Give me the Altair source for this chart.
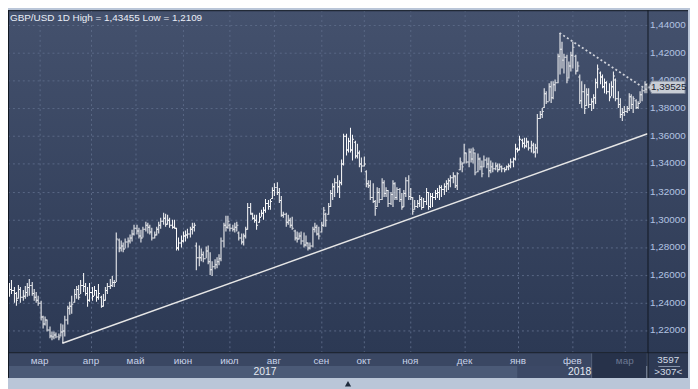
import altair as alt
import pandas as pd

# ---------------- data ----------------
opens = [
    1.2480,1.2500,1.2490,1.2470,1.2435,1.2500,1.2440,1.2450,1.2480,1.2510,
    1.2530,1.2470,1.2440,1.2420,1.2400,1.2300,1.2250,1.2280,1.2210,1.2165,
    1.2160,1.2170,1.2160,1.2165,1.2190,1.2200,1.2280,1.2360,1.2380,1.2405,
    1.2460,1.2500,1.2465,1.2530,1.2520,1.2470,1.2420,1.2480,1.2450,1.2490,
    1.2440,1.2445,1.2380,1.2420,1.2490,1.2520,1.2530,1.2550,1.2550,1.2855,
    1.2800,1.2810,1.2790,1.2840,1.2850,1.2870,1.2900,1.2940,1.2920,1.2880,
    1.2870,1.2930,1.2960,1.2950,1.2910,1.2870,1.2890,1.2935,1.2960,1.2990,
    1.3010,1.2970,1.3000,1.2960,1.2950,1.2940,1.2800,1.2830,1.2850,1.2880,
    1.2890,1.2900,1.2930,1.2950,1.2810,1.2730,1.2730,1.2750,1.2720,1.2780,
    1.2700,1.2640,1.2660,1.2680,1.2700,1.2720,1.2850,1.2960,1.2950,1.2965,
    1.2940,1.2930,1.2950,1.2905,1.2870,1.2840,1.2880,1.2930,1.3090,1.3040,
    1.3010,1.3000,1.2980,1.3020,1.3050,1.3070,1.3120,1.3100,1.3155,1.3210,
    1.3230,1.3200,1.3140,1.3030,1.3040,1.2980,1.3000,1.2960,1.2920,1.2870,
    1.2860,1.2880,1.2850,1.2820,1.2830,1.2800,1.2810,1.2930,1.2950,1.2900,
    1.2910,1.2960,1.3040,1.3040,1.3100,1.3190,1.3240,1.3270,1.3240,1.3270,
    1.3400,1.3600,1.3500,1.3570,1.3500,1.3560,1.3460,1.3480,1.3400,1.3390,
    1.3345,1.3260,1.3250,1.3160,1.3130,1.3100,1.3200,1.3150,1.3270,1.3190,
    1.3210,1.3120,1.3180,1.3260,1.3160,1.3220,1.3150,1.3100,1.3190,1.3280,
    1.3170,1.3160,1.3075,1.3100,1.3120,1.3150,1.3090,1.3130,1.3200,1.3100,
    1.3170,1.3160,1.3190,1.3200,1.3230,1.3220,1.3240,1.3260,1.3280,1.3300,
    1.3310,1.3250,1.3360,1.3400,1.3410,1.3480,1.3420,1.3490,1.3440,1.3480,
    1.3345,1.3440,1.3380,1.3380,1.3430,1.3400,1.3350,1.3380,1.3370,1.3390,
    1.3360,1.3380,1.3370,1.3360,1.3380,1.3390,1.3420,1.3440,1.3510,1.3500,
    1.3575,1.3550,1.3530,1.3560,1.3520,1.3540,1.3490,1.3520,1.3730,1.3760,
    1.3810,1.3910,1.3855,1.3960,1.3880,1.3970,1.3990,1.4180,1.4230,1.4150,
    1.4170,1.4020,1.4110,1.4190,1.4180,1.4070,1.4030,1.3860,1.3920,1.3820,
    1.3900,1.3830,1.3850,1.3880,1.3990,1.4060,1.4030,1.3960,1.3990,1.3920,
    1.3890,1.3960,1.4010,1.3870,1.3830,1.3760,1.3770,1.3780,1.3800,1.3890,
    1.3830,1.3860,1.3810,1.3840,1.3900,1.3930,1.3970,
]
highs = [
    1.2540,1.2560,1.2510,1.2480,1.2530,1.2510,1.2490,1.2520,1.2540,1.2570,
    1.2550,1.2500,1.2480,1.2450,1.2410,1.2310,1.2300,1.2280,1.2230,1.2190,
    1.2195,1.2185,1.2180,1.2250,1.2240,1.2310,1.2380,1.2405,1.2450,1.2500,
    1.2520,1.2530,1.2565,1.2615,1.2545,1.2510,1.2545,1.2510,1.2520,1.2490,
    1.2535,1.2450,1.2460,1.2510,1.2545,1.2570,1.2590,1.2560,1.2905,1.2860,
    1.2845,1.2830,1.2860,1.2870,1.2890,1.2925,1.2965,1.2965,1.2940,1.2925,
    1.2950,1.2985,1.2975,1.2965,1.2940,1.2915,1.2950,1.2985,1.3010,1.3048,
    1.3040,1.3030,1.3015,1.3000,1.2998,1.2940,1.2870,1.2885,1.2910,1.2920,
    1.2935,1.2950,1.2974,1.2975,1.2830,1.2815,1.2790,1.2770,1.2805,1.2810,
    1.2760,1.2700,1.2710,1.2725,1.2745,1.2870,1.2975,1.3025,1.3025,1.2970,
    1.2960,1.2975,1.2985,1.2915,1.2900,1.2895,1.2950,1.3115,1.3115,1.3045,
    1.3035,1.3030,1.3045,1.3070,1.3093,1.3150,1.3140,1.3150,1.3235,1.3260,
    1.3268,1.3222,1.3165,1.3055,1.3045,1.3035,1.3010,1.3020,1.2927,1.2915,
    1.2903,1.2915,1.2903,1.2880,1.2832,1.2832,1.2950,1.2975,1.2962,1.2950,
    1.2985,1.3093,1.3045,1.3116,1.3211,1.3260,1.3295,1.3318,1.3283,1.3430,
    1.3615,1.3615,1.3590,1.3657,1.3610,1.3567,1.3545,1.3496,1.3449,1.3450,
    1.3354,1.3283,1.3283,1.3260,1.3140,1.3235,1.3223,1.3295,1.3283,1.3235,
    1.3211,1.3200,1.3283,1.3271,1.3235,1.3223,1.3188,1.3211,1.3306,1.3318,
    1.3223,1.3164,1.3140,1.3140,1.3176,1.3164,1.3152,1.3223,1.3200,1.3188,
    1.3188,1.3211,1.3223,1.3247,1.3247,1.3259,1.3283,1.3295,1.3318,1.3342,
    1.3318,1.3342,1.3449,1.3410,1.3545,1.3484,1.3508,1.3508,1.3520,1.3484,
    1.3472,1.3448,1.3425,1.3460,1.3448,1.3448,1.3425,1.3413,1.3413,1.3401,
    1.3401,1.3389,1.3377,1.3389,1.3401,1.3437,1.3448,1.3543,1.3520,1.3603,
    1.3579,1.3591,1.3591,1.3567,1.3567,1.3555,1.3543,1.3757,1.3781,1.3804,
    1.3947,1.3923,1.3982,1.3994,1.3994,1.4006,1.4196,1.4345,1.4279,1.4196,
    1.4184,1.4137,1.4208,1.4279,1.4184,1.4137,1.4042,1.3994,1.3970,1.3947,
    1.3947,1.3875,1.3899,1.4018,1.4113,1.4065,1.4042,1.4018,1.3994,1.3982,
    1.3994,1.4065,1.4018,1.3923,1.3875,1.3804,1.3816,1.3816,1.3911,1.3899,
    1.3887,1.3864,1.3852,1.3923,1.3947,1.3994,1.3982,
]
lows = [
    1.2440,1.2460,1.2400,1.2380,1.2430,1.2400,1.2410,1.2430,1.2440,1.2450,
    1.2450,1.2410,1.2400,1.2380,1.2270,1.2215,1.2235,1.2190,1.2140,1.2125,
    1.2135,1.2140,1.2130,1.2160,1.2109,1.2160,1.2240,1.2315,1.2320,1.2400,
    1.2430,1.2420,1.2460,1.2480,1.2450,1.2370,1.2405,1.2415,1.2450,1.2405,
    1.2420,1.2360,1.2370,1.2415,1.2460,1.2500,1.2510,1.2510,1.2550,1.2765,
    1.2770,1.2765,1.2790,1.2800,1.2825,1.2840,1.2880,1.2890,1.2860,1.2835,
    1.2870,1.2915,1.2900,1.2890,1.2845,1.2860,1.2880,1.2895,1.2930,1.2965,
    1.2950,1.2960,1.2940,1.2930,1.2935,1.2775,1.2780,1.2800,1.2830,1.2840,
    1.2860,1.2870,1.2890,1.2910,1.2635,1.2660,1.2700,1.2690,1.2720,1.2680,
    1.2600,1.2589,1.2640,1.2650,1.2670,1.2700,1.2800,1.2915,1.2930,1.2910,
    1.2910,1.2905,1.2915,1.2845,1.2820,1.2810,1.2865,1.2925,1.3035,1.2998,
    1.2975,1.2925,1.2975,1.3020,1.3000,1.3045,1.3070,1.3070,1.3150,1.3165,
    1.3175,1.3115,1.3020,1.3010,1.2950,1.2960,1.2940,1.2925,1.2845,1.2830,
    1.2855,1.2820,1.2796,1.2808,1.2774,1.2785,1.2795,1.2903,1.2880,1.2855,
    1.2903,1.2950,1.2950,1.3033,1.3093,1.3140,1.3164,1.3188,1.3152,1.3250,
    1.3390,1.3460,1.3480,1.3480,1.3425,1.3437,1.3440,1.3377,1.3340,1.3380,
    1.3235,1.3223,1.3140,1.3116,1.3027,1.3093,1.3116,1.3140,1.3164,1.3164,
    1.3093,1.3105,1.3093,1.3140,1.3140,1.3128,1.3069,1.3093,1.3164,1.3140,
    1.3140,1.3033,1.3069,1.3080,1.3093,1.3069,1.3080,1.3105,1.3069,1.3080,
    1.3093,1.3140,1.3152,1.3140,1.3164,1.3176,1.3200,1.3211,1.3235,1.3259,
    1.3223,1.3211,1.3354,1.3340,1.3400,1.3400,1.3377,1.3413,1.3401,1.3318,
    1.3342,1.3354,1.3306,1.3377,1.3365,1.3306,1.3330,1.3342,1.3354,1.3342,
    1.3354,1.3342,1.3342,1.3354,1.3354,1.3365,1.3377,1.3425,1.3484,1.3496,
    1.3520,1.3508,1.3520,1.3496,1.3484,1.3472,1.3448,1.3472,1.3722,1.3733,
    1.3804,1.3828,1.3852,1.3840,1.3864,1.3923,1.3982,1.4042,1.4089,1.4054,
    1.3982,1.4018,1.4065,1.4089,1.4042,1.4065,1.3828,1.3804,1.3757,1.3816,
    1.3804,1.3781,1.3793,1.3828,1.3947,1.3970,1.3947,1.3911,1.3899,1.3852,
    1.3887,1.3875,1.3852,1.3804,1.3733,1.3712,1.3745,1.3769,1.3781,1.3793,
    1.3769,1.3793,1.3793,1.3840,1.3852,1.3911,1.3911,
]
closes = [
    1.2500,1.2490,1.2470,1.2420,1.2500,1.2440,1.2450,1.2480,1.2510,1.2530,
    1.2470,1.2440,1.2420,1.2400,1.2300,1.2250,1.2280,1.2210,1.2165,1.2160,
    1.2170,1.2160,1.2150,1.2190,1.2200,1.2280,1.2360,1.2380,1.2390,1.2460,
    1.2500,1.2440,1.2530,1.2520,1.2470,1.2420,1.2480,1.2450,1.2490,1.2440,
    1.2470,1.2380,1.2420,1.2490,1.2520,1.2530,1.2550,1.2550,1.2865,1.2800,
    1.2810,1.2790,1.2840,1.2850,1.2870,1.2900,1.2940,1.2920,1.2880,1.2870,
    1.2930,1.2960,1.2950,1.2910,1.2870,1.2890,1.2935,1.2960,1.2990,1.3010,
    1.2970,1.3000,1.2960,1.2950,1.2940,1.2800,1.2830,1.2850,1.2880,1.2890,
    1.2900,1.2930,1.2950,1.2960,1.2730,1.2730,1.2750,1.2720,1.2780,1.2700,
    1.2640,1.2660,1.2680,1.2700,1.2720,1.2850,1.2960,1.2950,1.2990,1.2940,
    1.2930,1.2950,1.2960,1.2870,1.2840,1.2880,1.2930,1.3090,1.3050,1.3010,
    1.3000,1.2960,1.3020,1.3050,1.3070,1.3120,1.3100,1.3130,1.3210,1.3230,
    1.3200,1.3140,1.3030,1.3040,1.2980,1.3000,1.2960,1.2940,1.2870,1.2860,
    1.2880,1.2850,1.2820,1.2830,1.2800,1.2810,1.2930,1.2950,1.2900,1.2880,
    1.2960,1.3070,1.3000,1.3100,1.3190,1.3240,1.3270,1.3240,1.3270,1.3400,
    1.3600,1.3500,1.3570,1.3500,1.3580,1.3460,1.3480,1.3400,1.3390,1.3400,
    1.3260,1.3250,1.3160,1.3130,1.3080,1.3200,1.3150,1.3270,1.3190,1.3210,
    1.3120,1.3180,1.3260,1.3160,1.3220,1.3150,1.3090,1.3190,1.3280,1.3170,
    1.3160,1.3060,1.3100,1.3120,1.3150,1.3090,1.3130,1.3200,1.3100,1.3170,
    1.3160,1.3190,1.3200,1.3230,1.3220,1.3240,1.3260,1.3280,1.3300,1.3320,
    1.3250,1.3330,1.3420,1.3380,1.3480,1.3420,1.3490,1.3440,1.3500,1.3340,
    1.3440,1.3380,1.3330,1.3430,1.3400,1.3350,1.3380,1.3370,1.3390,1.3360,
    1.3380,1.3370,1.3360,1.3380,1.3390,1.3420,1.3440,1.3510,1.3500,1.3580,
    1.3550,1.3530,1.3570,1.3520,1.3540,1.3490,1.3520,1.3730,1.3760,1.3780,
    1.3910,1.3850,1.3960,1.3880,1.3970,1.3990,1.4180,1.4230,1.4150,1.4170,
    1.4010,1.4110,1.4190,1.4240,1.4070,1.4110,1.3860,1.3920,1.3800,1.3900,
    1.3830,1.3850,1.3880,1.3990,1.4090,1.4030,1.3960,1.3990,1.3920,1.3880,
    1.3960,1.4040,1.3870,1.3830,1.3760,1.3770,1.3780,1.3800,1.3890,1.3830,
    1.3870,1.3810,1.3840,1.3900,1.3930,1.3970,1.39525,
]

month_pos = [13.7, 36.8, 56.7, 78.0, 98.9, 118.8, 140.1, 159.2, 180.0, 204.4, 228.4, 252.8, 276.3]
month_names = ["мар", "апр", "май", "июн", "июл", "авг", "сен", "окт", "ноя", "дек", "янв", "фев", "мар"]
y_ticks = [1.22, 1.24, 1.26, 1.28, 1.30, 1.32, 1.34, 1.36, 1.38, 1.40, 1.42, 1.44]
trend_i = [24, 286.5]
trend_v = [1.2109, 1.3615]
resist_i = [247, 286.5]
resist_v = [1.4345, 1.3928]
last_price = 1.39525
title_text = "GBP/USD 1D High = 1,43455 Low = 1,2109"
year_2017 = "2017"
year_2018 = "2018"
counter_top = "3597"
counter_bottom = ">307<"

# ---------------- layout / style ----------------
W, H = 647, 346
N = len(closes)
FONT = "Liberation Sans"
BAR = "#ffffff"
GRID = "#5a6886"

xs = alt.Scale(domain=[-0.5, N - 0.5], nice=False, zero=False, round=True)
ys = alt.Scale(domain=[1.2043, 1.4507], nice=False, zero=False, round=True)

df = pd.DataFrame({"i": list(range(N)), "o": opens, "h": highs, "l": lows, "c": closes})
one = pd.DataFrame({"k": [0]})


def X(f):
    return alt.X(f, scale=xs, axis=None)


def Y(f):
    return alt.Y(f, scale=ys, axis=None)


def rect(x0, x1, y0, y1, **kw):
    return alt.Chart(one).mark_rect(strokeWidth=0, **kw).encode(
        x=alt.value(x0), x2=alt.value(x1), y=alt.value(y0), y2=alt.value(y1))


def line(x0, x1, y0, y1, color, **kw):
    enc = dict(x=alt.value(x0), y=alt.value(y0))
    if x1 is not None:
        enc["x2"] = alt.value(x1)
    if y1 is not None:
        enc["y2"] = alt.value(y1)
    return alt.Chart(one).mark_rule(color=color, strokeWidth=1, **kw).encode(**enc)


def label(txt, x, y, **kw):
    d = pd.DataFrame({"t": [txt]})
    return alt.Chart(d).mark_text(font=FONT, **kw).encode(
        x=alt.value(x), y=alt.value(y), text="t:N")


grad = alt.Gradient(
    gradient="linear",
    stops=[alt.GradientStop(color="#44516d", offset=0),
           alt.GradientStop(color="#2c3954", offset=1)],
    x1=0, x2=0, y1=0, y2=1)

layers = []
# backgrounds
layers.append(rect(0, 688, 0, 346, color=grad))
layers.append(rect(647, 688, 346, 372, color="#2e3a54"))
layers.append(rect(0, 647, 346, 360, color="#3a4763"))
layers.append(rect(0, 515, 360, 372, color="#4b5a77"))
layers.append(rect(515, 590, 360, 372, color="#3c4966"))
layers.append(rect(590, 646, 347, 372, color="#27324a"))
layers.append(line(590.5, None, 347, 372, "#56637c"))

# grid
layers.append(alt.Chart(pd.DataFrame({"m": month_pos})).mark_rule(
    color=GRID, strokeWidth=1, strokeDash=[2, 3], xOffset=0.5).encode(
    x=X("m:Q"), y=alt.value(0), y2=alt.value(346)))
layers.append(alt.Chart(pd.DataFrame({"v": y_ticks})).mark_rule(
    color=GRID, strokeWidth=1, strokeDash=[2, 3], yOffset=0.5).encode(
    y=Y("v:Q"), x=alt.value(0), x2=alt.value(647)))

# support trend line
layers.append(alt.Chart(pd.DataFrame({"i": trend_i, "v": trend_v})).mark_line(
    color="#e6e6e6", strokeWidth=1.5).encode(x=X("i:Q"), y=Y("v:Q")))

# OHLC bars drawn as pixel-aligned filled rects
layers.append(alt.Chart(df).mark_rect(color=BAR, x2Offset=1).encode(
    x=X("i:Q"), x2="i:Q", y=Y("h:Q"), y2="l:Q"))
layers.append(alt.Chart(df).mark_rect(color=BAR, xOffset=-1, x2Offset=0, y2Offset=1).encode(
    x=X("i:Q"), x2="i:Q", y=Y("o:Q"), y2="o:Q"))
layers.append(alt.Chart(df).mark_rect(color=BAR, xOffset=1, x2Offset=2, y2Offset=1).encode(
    x=X("i:Q"), x2="i:Q", y=Y("c:Q"), y2="c:Q"))

# resistance dotted line
layers.append(alt.Chart(pd.DataFrame({"i": resist_i, "v": resist_v})).mark_line(
    color="#cfd2da", strokeWidth=1.8, strokeDash=[2, 2.5]).encode(x=X("i:Q"), y=Y("v:Q")))

# frame lines
layers.append(line(0, 688, 0.5, None, "#121822"))
layers.append(line(0.5, None, 0, 372, "#121822"))
layers.append(line(0, 688, 346.5, None, "#121822"))
layers.append(line(647.5, None, 0, 372, "#121822"))

# y labels
ylab = pd.DataFrame({"v": y_ticks, "t": [f"{v:.5f}".replace(".", ",") for v in y_ticks]})
layers.append(alt.Chart(ylab).mark_text(
    font=FONT, fontSize=10, align="left", baseline="middle", color="#b3c4e2").encode(
    x=alt.value(649.5), y=Y("v:Q"), text="t:N"))

# month labels
mlab = pd.DataFrame({"m": month_pos, "n": month_names})
layers.append(alt.Chart(mlab).mark_text(
    font=FONT, fontSize=10, align="center", baseline="middle").encode(
    x=X("m:Q"), y=alt.value(354.5), text="n:N",
    color=alt.condition(alt.datum.m > 270, alt.value("#6c7892"), alt.value("#c8d2e8"))))

# year labels, title, counters
layers.append(label(year_2017, 260, 366.5, fontSize=10.5, align="center", baseline="middle", color="#e4e9f2"))
layers.append(label(year_2018, 590, 366.5, fontSize=10.5, align="right", baseline="middle", color="#e4e9f2"))
layers.append(label(title_text, 2, 7.5, fontSize=10, align="left", baseline="middle", color="#eaeef6"))
layers.append(label(counter_top, 668, 354, fontSize=10, align="center", baseline="middle", color="#d3dae6"))
layers.append(line(658, 680, 360.5, None, "#8a96ac"))
layers.append(label(counter_bottom, 668, 366.5, fontSize=10, align="center", baseline="middle", color="#d3dae6"))

# last price tag
pdf = pd.DataFrame({"p": [last_price], "t": [f"{last_price:.5f}".replace(".", ",")]})
layers.append(alt.Chart(pdf).mark_point(
    shape="M-1,0L-0.83,-0.34L1,-0.34L1,0.34L-0.83,0.34Z", size=37 * 37, filled=True,
    color="#c8cdd5", stroke="#7d879a", strokeWidth=1, opacity=1).encode(
    x=alt.value(666.5), y=Y("p:Q")))
layers.append(alt.Chart(pdf).mark_text(
    font=FONT, fontSize=10, align="center", baseline="middle", color="#17202e").encode(
    x=alt.value(668.5), y=Y("p:Q"), text="t:N"))

# small scroll marker at the bottom
layers.append(alt.Chart(one).mark_point(
    shape="triangle-up", filled=True, color="#1f2a3c", size=40, opacity=1).encode(
    x=alt.value(344), y=alt.value(378)))

chart = alt.layer(*layers).properties(
    width=W, height=H,
    autosize=alt.AutoSizeParams(type="none"),
    padding={"left": 0, "top": 0, "right": 43, "bottom": 35},
    background="#bac6d8",
).configure_view(strokeWidth=0)

chart.save("out.html", embed_options={"renderer": "svg", "actions": False})
